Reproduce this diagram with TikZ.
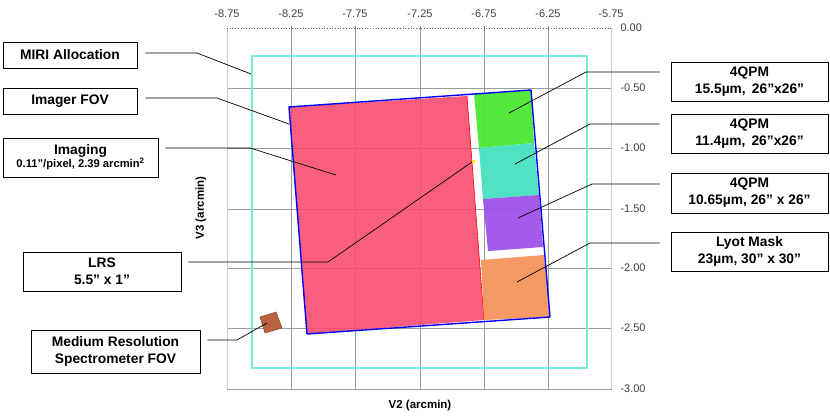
\documentclass[tikz,border=0pt]{standalone}
\usepackage{fontspec}
\setmainfont{Liberation Sans}
\usetikzlibrary{positioning}

\definecolor{fovred}{RGB}{248,72,108}
\definecolor{qgreen}{RGB}{76,232,52}
\definecolor{qteal}{RGB}{70,224,192}
\definecolor{qpurple}{RGB}{160,82,232}
\definecolor{lyotorange}{RGB}{245,148,92}
\definecolor{mrsbrown}{RGB}{184,98,64}
\definecolor{allocyan}{RGB}{120,236,220}
\definecolor{gridgray}{RGB}{150,160,160}

\begin{document}
\begin{tikzpicture}[x=1pt, y=-1pt,
    labelbox/.style={rectangle, draw, line width=0.9pt, fill=white, align=center,
                     font=\fontsize{13.8}{17}\selectfont\bfseries, inner sep=1pt},
    leader/.style={line width=0.7pt},
    gridline/.style={gridgray, line width=0.9pt},
    tick/.style={font=\fontsize{11}{13}\selectfont, text=black!75},
    axislabel/.style={font=\fontsize{11.5}{13}\selectfont\bfseries}
  ]
    \useasboundingbox (0,0) rectangle (830,416);

    % grid and frame
    \foreach \gx in {291,355,420,484,548}
      \draw[gridline] (\gx,28) -- (\gx,389);
    \foreach \gy in {88,148,209,268,328}
      \draw[gridline] (227,\gy) -- (612,\gy);
    \draw[black!20, line width=0.8pt] (227,28) -- (227,389);
    \draw[black!20, line width=0.8pt] (611,28) -- (611,389);
    \draw[gridgray, line width=1pt] (227,389) -- (612,389);
    \draw[black!60, dotted, line width=0.7pt] (227,28) -- (611,28);
    \foreach \gx in {291,355,420,484,548}
      \draw[black!50, line width=0.6pt] (\gx,26) -- (\gx,30);

    % tick labels
    \foreach \gx/\txt in {227/-8.75,291/-8.25,355/-7.75,420/-7.25,484/-6.75,548/-6.25,611/-5.75}
      \node[tick] (top\gx) at (\gx,14) {\txt};
    \foreach \gy/\txt in {28/0.00,88/-0.50,148/-1.00,209/-1.50,268/-2.00,328/-2.50,389/-3.00}
      \node[tick, anchor=west] (right\gy) at (617,\gy) {\txt};

    \node[axislabel] (vtwo) at (420,406) {V2 (arcmin)};
    \node[axislabel, rotate=90] (vthree) at (201,208) {V3 (arcmin)};

    % MIRI allocation
    \draw[allocyan, line width=1.2pt] (252,56) rectangle (587,368);

    % imaging area and coronagraphs
    \fill[fovred, opacity=0.88] (289,107) -- (467,96) -- (484,320) -- (307,334) -- cycle;
    \draw[red, line width=0.6pt] (467,96) -- (484,320);
    \fill[qgreen, opacity=0.95] (474,94) -- (531,90) -- (534,143) -- (479,148) -- cycle;
    \fill[qteal, opacity=0.95] (479,148) -- (534,143) -- (539,195) -- (483,199) -- cycle;
    \fill[qpurple, opacity=0.95] (483,199) -- (539,195) -- (543,247) -- (488,251) -- cycle;
    \fill[lyotorange, opacity=0.95] (481,260) -- (544,255) -- (550,317) -- (484,320) -- cycle;
    \draw[blue, line width=1.4pt, line join=round] (289,107) -- (531,90) -- (550,317) -- (307,334) -- cycle;
    \fill[yellow!90!orange] (471.5,159.5) rectangle (474.5,162.5);

    % MRS field
    \draw[mrsbrown!80!black, fill=mrsbrown, line width=0.6pt] (260,317) -- (276,312) -- (282,328) -- (265,333) -- cycle;

    % labels
    \node[labelbox, minimum width=134pt, minimum height=26pt] (miri)    at (70,55)     {MIRI Allocation};
    \node[labelbox, minimum width=134pt, minimum height=26pt] (imager)  at (70,101)    {Imager FOV};
    \node[labelbox, minimum width=155pt, minimum height=39pt] (imaging) at (80.5,157.5)
        {Imaging\\[-4pt]{\fontsize{11.2}{13}\selectfont 0.11''/pixel, 2.39 arcmin\textsuperscript{2}}};
    \node[labelbox, minimum width=158pt, minimum height=39pt] (lrs)     at (102,271.5) {LRS\\5.5'' x 1''};
    \node[labelbox, minimum width=169pt, minimum height=43pt] (mrs)     at (115.5,351.5) {Medium Resolution\\Spectrometer FOV};
    \node[labelbox, minimum width=157pt, minimum height=39pt] (qpmone)   at (749.5,81.5)  {4QPM\\15.5µm,\, 26''x26''};
    \node[labelbox, minimum width=157pt, minimum height=39pt] (qpmtwo)   at (749.5,133.5) {4QPM\\11.4µm,\, 26''x26''};
    \node[labelbox, minimum width=157pt, minimum height=40pt] (qpmthree) at (749.5,193)   {4QPM\\10.65µm, 26'' x 26''};
    \node[labelbox, minimum width=157pt, minimum height=39pt] (lyot)     at (749.5,251.5) {Lyot Mask\\23µm, 30'' x 30''};

    % leader knees and tips
    \coordinate (kmiri) at (197,53);       \coordinate (tmiri) at (251,74);
    \coordinate (kimager) at (217,98);     \coordinate (timager) at (289,124);
    \coordinate (kimaging) at (250,148);   \coordinate (timaging) at (336,175);
    \coordinate (klrs) at (328,262);       \coordinate (tlrs) at (472,162);
    \coordinate (kmrs) at (237,340);       \coordinate (tmrs) at (267,323);
    \coordinate (kqone) at (586,72);       \coordinate (tqone) at (509,113);
    \coordinate (kqtwo) at (590,124);      \coordinate (tqtwo) at (515,164);
    \coordinate (kqthree) at (592,184);    \coordinate (tqthree) at (518,218);
    \coordinate (klyot) at (590,243);      \coordinate (tlyot) at (517,282);

    \draw[leader, shorten <=8pt] (miri.east |- kmiri) -- (kmiri) -- (tmiri);
    \draw[leader, shorten <=8pt] (imager.east |- kimager) -- (kimager) -- (timager);
    \draw[leader, shorten <=7pt] (imaging.east |- kimaging) -- (kimaging) -- (timaging);
    \draw[leader, shorten <=7pt] (lrs.east |- klrs) -- (klrs) -- (tlrs);
    \draw[leader, shorten <=7pt] (mrs.east |- kmrs) -- (kmrs) -- (tmrs);
    \draw[leader, shorten <=11pt] (qpmone.west |- kqone) -- (kqone) -- (tqone);
    \draw[leader, shorten <=11pt] (qpmtwo.west |- kqtwo) -- (kqtwo) -- (tqtwo);
    \draw[leader, shorten <=11pt] (qpmthree.west |- kqthree) -- (kqthree) -- (tqthree);
    \draw[leader, shorten <=11pt] (lyot.west |- klyot) -- (klyot) -- (tlyot);
\end{tikzpicture}
\end{document}
